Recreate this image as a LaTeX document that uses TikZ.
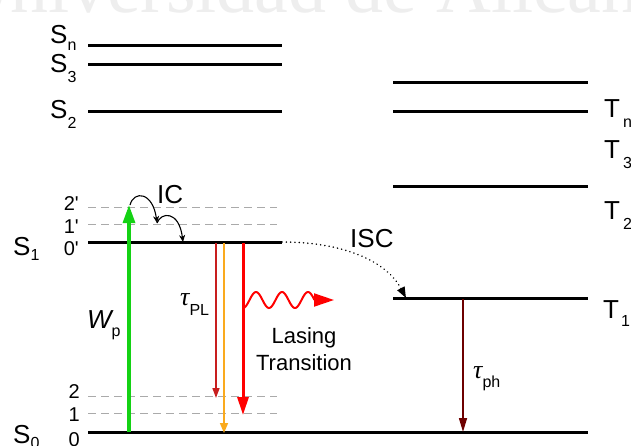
\documentclass[tikz,border=0pt]{standalone}
\usepackage{fontspec}
\setmainfont{Liberation Sans}[Ligatures=TeXOff]
\newfontfamily\wmfont{Liberation Serif}
\newfontfamily\grkfont{Liberation Serif}
\usetikzlibrary{arrows.meta}
\definecolor{pumpgreen}{RGB}{20,210,20}
\definecolor{lasred}{RGB}{255,0,0}
\definecolor{thinred}{RGB}{200,30,30}
\definecolor{plorange}{RGB}{250,170,30}
\definecolor{phred}{RGB}{110,0,0}
\definecolor{dashgray}{RGB}{170,170,170}
\definecolor{wmgray}{RGB}{238,238,238}
\newcommand\withsub[3][10]{#2\raisebox{-#1pt}{\fontsize{16}{16}\selectfont #3}}
\newcommand\tauit{{\grkfont\itshape τ}}
\tikzset{
  level/.style={line width=3pt, black},
  sublevel/.style={line width=0.9pt, draw=dashgray, dash pattern=on 8pt off 5pt},
  lbl/.style={inner sep=0pt, anchor=base west, font=\fontsize{26}{26}\selectfont},
  dig/.style={inner sep=0pt, anchor=base east, font=\fontsize{20}{20}\selectfont},
  txt/.style={inner sep=0pt, anchor=base, font=\fontsize{22}{22}\selectfont},
  icarrow/.style={line width=1.1pt, black, -{Stealth[length=7pt,width=6pt]}}
}
\begin{document}
\begin{tikzpicture}[x=1pt,y=-1pt]
\useasboundingbox (0,0) rectangle (631,445);
\fill[white] (0,0) rectangle (631,445);
% watermark
\node[inner sep=0pt, anchor=base west, text=wmgray, font=\wmfont\fontsize{76}{76}\selectfont] (wm) at (-45,12) {Universidad de Alicante};

% singlet levels
\draw[level] (88,45) coordinate (sn-w) -- (282,45) coordinate (sn-e);
\draw[level] (88,64) coordinate (s3-w) -- (282,64) coordinate (s3-e);
\draw[level] (88,111) coordinate (s2-w) -- (282,111) coordinate (s2-e);
\draw[level] (88,242) coordinate (s1-w) -- (282,242) coordinate (s1-e);
\draw[level] (88,432) coordinate (s0-w) -- (588,432) coordinate (s0-e);
\draw[sublevel] (88,207) coordinate (v2p-w) -- (277,207) coordinate (v2p-e);
\draw[sublevel] (88,224) coordinate (v1p-w) -- (277,224) coordinate (v1p-e);
\draw[sublevel] (88,396) coordinate (v2-w) -- (277,396) coordinate (v2-e);
\draw[sublevel] (88,413) coordinate (v1-w) -- (277,413) coordinate (v1-e);

% triplet levels
\draw[level] (393,82) coordinate (tn2-w) -- (588,82) coordinate (tn2-e);
\draw[level] (393,111) coordinate (tn-w) -- (588,111) coordinate (tn-e);
\draw[level] (393,186) coordinate (t2-w) -- (588,186) coordinate (t2-e);
\draw[level] (393,298) coordinate (t1-w) -- (588,298) coordinate (t1-e);

% labels left
\node[lbl] (lSn) at (50,43) {\withsub[7]{S}{n}};
\node[lbl] (lS3) at (50,72) {\withsub{S}{3}};
\node[lbl] (lS2) at (50,118) {\withsub{S}{2}};
\node[lbl] (lS1) at (13,255) {\withsub[5]{S}{1}};
\node[lbl] (lS0) at (13,443) {\withsub[5]{S}{0}};
\node[dig] (d2p) at (79,210) {2'};
\node[dig] (d1p) at (79,233) {1'};
\node[dig] (d0p) at (79,255) {0'};
\node[dig] (d2) at (80,398) {2};
\node[dig] (d1) at (80,421) {1};
\node[dig] (d0) at (80,446) {0};

% labels right
\node[lbl] (lTn) at (604,117) {\withsub{T\kern3pt}{n}};
\node[lbl] (lT3) at (604,158) {\withsub{T\kern3pt}{3}};
\node[lbl] (lT2) at (604,219) {\withsub{T\kern3pt}{2}};
\node[lbl] (lT1) at (603,318) {\withsub[8]{T\kern2pt}{1}};

% pump
\coordinate (pump-b) at (129,432);
\coordinate (pump-t) at (129,205);
\draw[line width=3.2pt, pumpgreen, -{Triangle[length=18pt,width=12pt]}] (pump-b) -- (pump-t);
\node[lbl] (Wp) at (87,328) {\withsub[8]{{\itshape W}}{p}};

% IC
\coordinate (ic1) at (157,223);
\coordinate (ic2) at (183,242);
\draw[icarrow] (130,205) .. controls (134,190) and (153,192) .. (ic1);
\draw[icarrow] (ic1) .. controls (161,212) and (179,210) .. (ic2);
\node[lbl] (IC) at (157,203) {IC};

% emission arrows
\draw[line width=1.5pt, thinred, -{Triangle[length=10pt,width=7pt]}] (216,243) coordinate (pl-t) -- (216,398) coordinate (pl-b);
\draw[line width=1.5pt, plorange, -{Triangle[length=10pt,width=8pt]}] (224,243) coordinate (or-t) -- (224,433) coordinate (or-b);
\draw[line width=3pt, lasred, -{Triangle[length=18pt,width=11pt]}] (243,243) coordinate (las-t) -- (243,415) coordinate (las-b);
\node[lbl] (tauPL) at (180,305) {\tauit\raisebox{-10pt}{\fontsize{16}{16}\selectfont PL}};

% lasing wave
\draw[line width=2pt, lasred] plot[domain=243:314.5, samples=120, smooth] (\x, {300+8*cos(13.84615*(\x-243))});
\coordinate (wv-e) at (314,300);
\coordinate (wv-t) at (334,300);
\draw[line width=2pt, lasred, -{Triangle[length=20pt,width=13pt]}] (wv-e) -- (wv-t);
\node[txt] (las1) at (304,343) {Lasing};
\node[txt] (las2) at (304,370) {Transition};

% ISC
\draw[line width=1.6pt, line cap=round, dash pattern=on 0.1pt off 4.2pt, -{Triangle[length=11pt,width=8pt]}] (s1-e) .. controls (345,242) and (387,262) .. (406,298);
\node[lbl] (ISC) at (350,247) {ISC};

% phosphorescence
\draw[line width=1.5pt, phred, -{Triangle[length=14pt,width=8pt]}] (463,299) coordinate (ph-t) -- (463,432) coordinate (ph-b);
\node[lbl] (tauph) at (473,378) {\tauit\raisebox{-9pt}{\fontsize{16}{16}\selectfont ph}};
\end{tikzpicture}
\end{document}
